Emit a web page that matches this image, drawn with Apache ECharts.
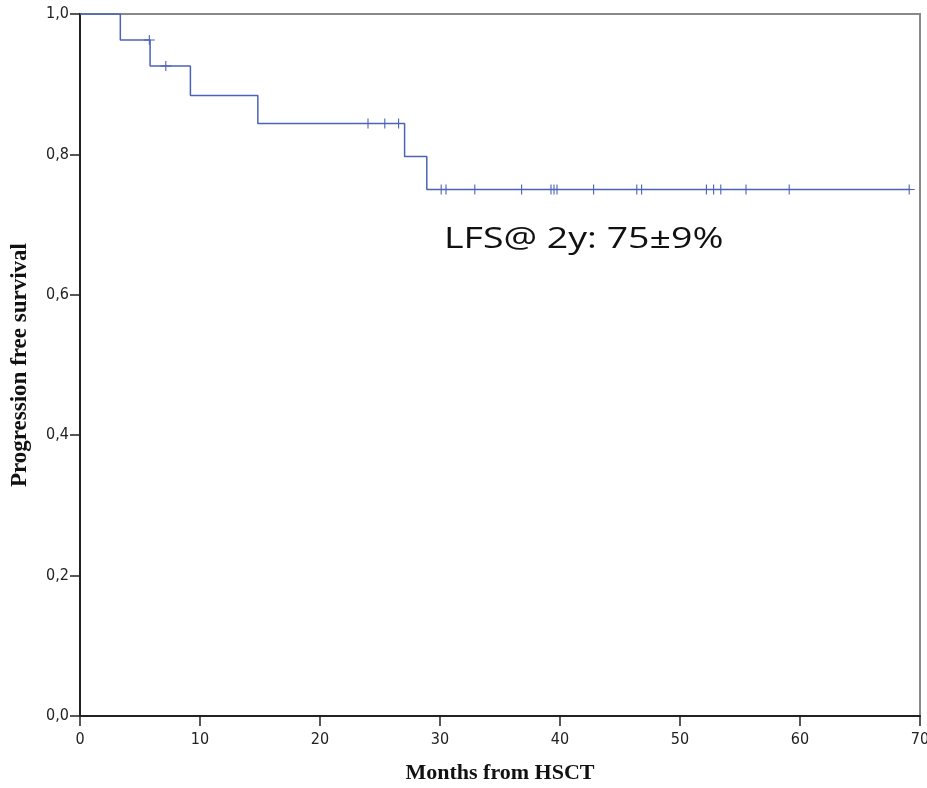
<!DOCTYPE html>
<html>
<head>
<meta charset="utf-8">
<script src="https://cdn.jsdelivr.net/npm/echarts@6/dist/echarts.min.js"></script>
<style>
html,body{margin:0;padding:0;background:#fff;}
#chart{width:927px;height:788px;}
</style>
</head>
<body>
<div id="chart"></div>
<script>
// Kaplan-Meier step points: time (months) and survival after event
const stepTimes = [0, 3.36, 5.84, 9.2, 14.82, 27.05, 28.9, 69.2];
const stepSurv  = [1.0, 0.963, 0.926, 0.884, 0.844, 0.797, 0.75, 0.75];
// Censored observations
const censorTimes = [5.78, 7.15, 24.0, 25.4, 26.55, 30.1, 30.5, 32.9, 36.8, 39.25, 39.5, 39.75, 42.8, 46.4, 46.8, 52.2, 52.8, 53.4, 55.5, 59.1, 69.1];
const censorSurv  = [0.963, 0.926, 0.844, 0.844, 0.844, 0.75, 0.75, 0.75, 0.75, 0.75, 0.75, 0.75, 0.75, 0.75, 0.75, 0.75, 0.75, 0.75, 0.75, 0.75, 0.75];
const xTicks = [0, 10, 20, 30, 40, 50, 60, 70];
const yTicks = [0, 0.2, 0.4, 0.6, 0.8, 1.0];
const annotation = 'LFS@ 2y: 75\u00B19%';
const xTitle = 'Months from HSCT';
const yTitle = 'Progression free survival';

const lineColor = '#4a63b8';
const tickFont = '"Liberation Sans Narrow", "DejaVu Sans Condensed", "Liberation Sans", sans-serif';
const chart = echarts.init(document.getElementById('chart'));
const plusPath = 'path://M-0.1,-1 H0.1 V-0.1 H1 V0.1 H0.1 V1 H-0.1 V0.1 H-1 V-0.1 H-0.1 Z';

chart.setOption({
  animation: false,
  backgroundColor: '#fff',
  grid: { left: 80, right: 7, top: 14, bottom: 72, containLabel: false, outerBoundsMode: 'none',
          show: true, borderColor: '#888', borderWidth: 2, backgroundColor: 'transparent' },
  xAxis: {
    type: 'value', min: 0, max: 70, interval: 10,
    name: xTitle, nameLocation: 'middle', nameGap: 46,
    nameTextStyle: { fontFamily: 'Liberation Serif', fontWeight: 'bold', fontSize: 22, color: '#111' },
    axisLine: { show: true, onZero: false, lineStyle: { color: '#222', width: 2 } },
    axisTick: { show: true, length: 10, lineStyle: { color: '#222', width: 1.5 } },
    axisLabel: { fontFamily: tickFont, fontSize: 16, color: '#222', margin: 16,
      formatter: v => xTicks.includes(v) ? String(v) : '' },
    splitLine: { show: false }
  },
  yAxis: {
    type: 'value', min: 0, max: 1, interval: 0.2,
    name: yTitle, nameLocation: 'middle', nameGap: 48, nameRotate: 90,
    nameTextStyle: { fontFamily: 'Liberation Serif', fontWeight: 'bold', fontSize: 23, color: '#111' },
    axisLine: { show: true, onZero: false, lineStyle: { color: '#222', width: 2 } },
    axisTick: { show: true, length: 10, lineStyle: { color: '#222', width: 1.5 } },
    axisLabel: { fontFamily: tickFont, fontSize: 16, color: '#222', margin: 11,
      formatter: v => yTicks.some(t => Math.abs(t - v) < 1e-9) ? v.toFixed(1).replace('.', ',') : '' },
    splitLine: { show: false }
  },
  series: [
    {
      type: 'line', step: 'end', showSymbol: false, symbol: 'none',
      data: stepTimes.map((t, i) => [t, stepSurv[i]]),
      lineStyle: { color: lineColor, width: 1.5 },
      z: 3
    },
    {
      type: 'scatter',
      data: censorTimes.map((t, i) => [t, censorSurv[i]]),
      symbol: plusPath, symbolKeepAspect: false, symbolSize: [11, 10],
      itemStyle: { color: lineColor, opacity: 1 },
      z: 4
    }
  ],
  graphic: [
    { type: 'text', left: 444, top: 224, scaleX: 1.25,
      style: { text: annotation, font: '30px "Open Sans"', fill: '#111' } }
  ]
});
</script>
</body>
</html>
